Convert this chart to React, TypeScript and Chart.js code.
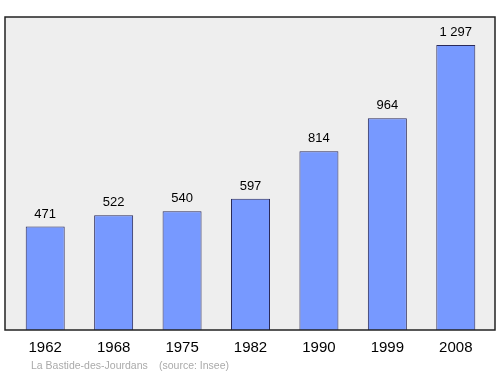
import React, { useEffect, useRef } from "react";
import { Chart, registerables } from "chart.js";

Chart.register(...registerables);

const years = ["1962", "1968", "1975", "1982", "1990", "1999", "2008"];
const population = [471, 522, 540, 597, 814, 964, 1297];
const valueLabels = ["471", "522", "540", "597", "814", "964", "1 297"];
const sourcePlace = "La Bastide-des-Jourdans";
const sourceNote = "(source: Insee)";

const FONT = "'Liberation Sans', Arial, sans-serif";

const framePlugin = {
  id: "frame",
  beforeDraw(chart: any) {
    const { ctx, chartArea } = chart;
    const l = chartArea.left - 6;
    const r = chartArea.right + 5;
    const t = chartArea.top - 1;
    const b = chartArea.bottom;
    ctx.save();
    ctx.fillStyle = "#eeeeee";
    ctx.fillRect(l, t, r - l, b - t);
    ctx.restore();
  },
  afterDatasetsDraw(chart: any) {
    const { ctx, chartArea } = chart;
    const l = chartArea.left - 6;
    const r = chartArea.right + 5;
    const t = chartArea.top - 1;
    const b = chartArea.bottom;
    ctx.save();
    ctx.strokeStyle = "#222222";
    ctx.lineWidth = 1.5;
    ctx.strokeRect(l, t, r - l, b - t);
    const meta = chart.getDatasetMeta(0);
    ctx.fillStyle = "#000000";
    ctx.font = `13px ${FONT}`;
    ctx.textAlign = "center";
    ctx.textBaseline = "alphabetic";
    meta.data.forEach((el: any, i: number) => {
      ctx.fillText(valueLabels[i], el.x, el.y - 9);
    });
    ctx.fillStyle = "#aaaaaa";
    ctx.font = `10.5px ${FONT}`;
    ctx.textAlign = "left";
    ctx.fillText(sourcePlace, 31, 369);
    ctx.fillText(sourceNote, 159, 369);
    ctx.restore();
  },
};

export default function App() {
  const ref = useRef<HTMLCanvasElement>(null);
  useEffect(() => {
    const chart = new Chart(ref.current!, {
      type: "bar",
      data: {
        labels: years,
        datasets: [
          {
            data: population,
            backgroundColor: "#7799ff",
            borderColor: "#2a2a5a",
            borderWidth: 1,
            categoryPercentage: 1,
            barPercentage: 0.57,
          },
        ],
      },
      options: {
        animation: false,
        responsive: false,
        devicePixelRatio: 1,
        layout: { padding: { left: 11, right: 10, top: 18, bottom: 0 } },
        plugins: { legend: { display: false }, tooltip: { enabled: false } },
        scales: {
          x: {
            grid: { display: false, drawTicks: false },
            border: { display: false },
            ticks: { color: "#000000", font: { family: FONT, size: 15 }, padding: 9 },
            afterFit: (scale: any) => {
              scale.height = 44;
            },
          },
          y: { display: false, min: 0, max: 1420 },
        },
      },
      plugins: [framePlugin],
    });
    return () => chart.destroy();
  }, []);
  return (
    <div style={{ position: "fixed", left: 0, top: 0, width: 500, height: 374, background: "#ffffff" }}>
      <canvas ref={ref} width={500} height={374} style={{ width: 500, height: 374 }} />
    </div>
  );
}
